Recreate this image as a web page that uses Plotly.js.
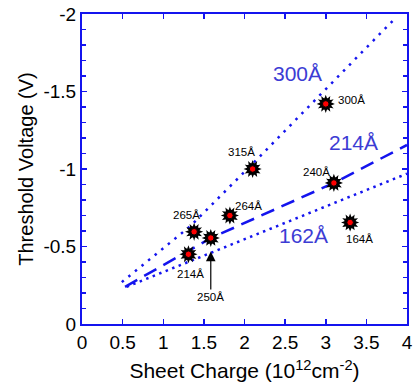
<!DOCTYPE html>
<html>
<head>
<meta charset="utf-8">
<script src="https://cdn.plot.ly/plotly-3.0.1.min.js"></script>
<style>
  html, body { margin: 0; padding: 0; background: #fff; }
  #chart { width: 413px; height: 388px; }
</style>
</head>
<body>
<div id="chart"></div>
<script>
// Measured devices: sheet charge (1e12 cm^-2) vs threshold voltage (V)
const sampleLabels = ['300Å', '315Å', '240Å', '264Å', '265Å', '250Å', '214Å', '164Å'];
const sheetCharge  = [3.00, 2.10, 3.10, 1.82, 1.38, 1.585, 1.31, 3.30];
const thresholdV   = [-1.42, -1.00, -0.91, -0.70, -0.595, -0.555, -0.45, -0.655];

// Model curves for three barrier thicknesses
const curve300X = [0.49, 1.33, 2.15, 3.05, 3.85];
const curve300Y = [-0.27, -0.63, -1.06, -1.54, -1.97];
const curve214X = [0.53, 1.06, 1.59, 3.10, 4.00];
const curve214Y = [-0.24, -0.40, -0.555, -0.91, -1.155];
const curve162X = [0.55, 4.00];
const curve162Y = [-0.24, -0.97];

// Curve names drawn beside each curve
const curveNames  = ['300Å', '214Å', '162Å'];
const curveNameX  = [2.65, 3.34, 2.73];
const curveNameY  = [-1.613, -1.17, -0.574];

// Axis ticks
const xTicks = [0, 0.5, 1, 1.5, 2, 2.5, 3, 3.5, 4];
const xTickText = ['0', '0.5', '1', '1.5', '2', '2.5', '3', '3.5', '4'];
const yTicks = [0, -0.5, -1, -1.5, -2];
const yTickText = ['0', '-0.5', '-1', '-1.5', '-2'];

const blue = '#1414ee';
const nameBlue = '#3c3cd4';
const font = 'Liberation Sans, Arial, Helvetica, sans-serif';

const traces = [
  { x: curve300X, y: curve300Y, mode: 'lines',
    line: { color: blue, width: 2.5, dash: '2.5px,6px' }, hoverinfo: 'skip' },
  { x: curve214X, y: curve214Y, mode: 'lines',
    line: { color: blue, width: 2.5, dash: '14px,8px' }, hoverinfo: 'skip' },
  { x: curve162X, y: curve162Y, mode: 'lines',
    line: { color: blue, width: 2.5, dash: '2.5px,4.5px' }, hoverinfo: 'skip' }
];

// Spiky black burst behind each red point
[0, 30, 60].forEach(a => {
  traces.push({
    x: sheetCharge, y: thresholdV, mode: 'markers',
    marker: { symbol: 'star-diamond', size: 13, color: '#000', angle: a, line: { width: 0 } },
    hoverinfo: 'skip'
  });
});
traces.push({
  x: sheetCharge, y: thresholdV, mode: 'markers', text: sampleLabels,
  marker: { symbol: 'circle', size: 6.5, color: '#ff0000', line: { color: '#000', width: 1 } }
});

// Sample label offsets (pixels) from each point
const labelDx = [26, -11, -17, 19, -8, 0, 2, 9];
const labelDy = [4, 17.5, 11, 10, 17, 0, -20, -16.5];

const annotations = [];
sampleLabels.forEach((t, i) => {
  if (t === '250Å') {
    annotations.push({
      x: sheetCharge[i], y: thresholdV[i] + 0.088, xref: 'x', yref: 'y',
      text: t, showarrow: true, ax: 0, ay: 45.5,
      arrowhead: 2, arrowsize: 1.6, arrowwidth: 1.2, arrowcolor: '#000',
      font: { family: font, size: 11.5, color: '#000' }
    });
  } else {
    annotations.push({
      x: sheetCharge[i], y: thresholdV[i], xref: 'x', yref: 'y',
      text: t, showarrow: false, xshift: labelDx[i], yshift: labelDy[i],
      font: { family: font, size: 11.5, color: '#000' }
    });
  }
});
curveNames.forEach((t, i) => {
  annotations.push({
    x: curveNameX[i], y: curveNameY[i], xref: 'x', yref: 'y',
    text: t, showarrow: false,
    font: { family: font, size: 21, color: nameBlue }
  });
});

const layout = {
  width: 413, height: 388,
  margin: { l: 82, r: 6, t: 14, b: 64 },
  paper_bgcolor: '#fff', plot_bgcolor: '#fff',
  showlegend: false,
  font: { family: font, color: '#000' },
  xaxis: {
    range: [0, 4], tickvals: xTicks, ticktext: xTickText,
    ticks: 'inside', ticklen: 5, tickwidth: 1.5, tickcolor: blue,
    showline: true, linecolor: blue, linewidth: 2, mirror: 'ticks',
    showgrid: false, zeroline: false,
    tickfont: { family: font, size: 19, color: '#000' },
    title: { text: 'Sheet Charge (10<sup>12</sup>cm<sup>-2</sup>)', standoff: 12,
             font: { family: font, size: 21, color: '#000' } }
  },
  yaxis: {
    range: [0, -2], tickvals: yTicks, ticktext: yTickText,
    ticks: 'inside', ticklen: 5, tickwidth: 1.5, tickcolor: blue,
    minor: { dtick: 0.1, ticks: 'inside', ticklen: 4, tickwidth: 1.5, tickcolor: blue },
    showline: true, linecolor: blue, linewidth: 2, mirror: 'ticks',
    showgrid: false, zeroline: false,
    tickfont: { family: font, size: 19, color: '#000' },
    title: { text: 'Threshold Voltage (V)', standoff: 4,
             font: { family: font, size: 20, color: '#000' } }
  },
  annotations: annotations
};

Plotly.newPlot('chart', traces, layout, { displayModeBar: false, staticPlot: true });
</script>
</body>
</html>
